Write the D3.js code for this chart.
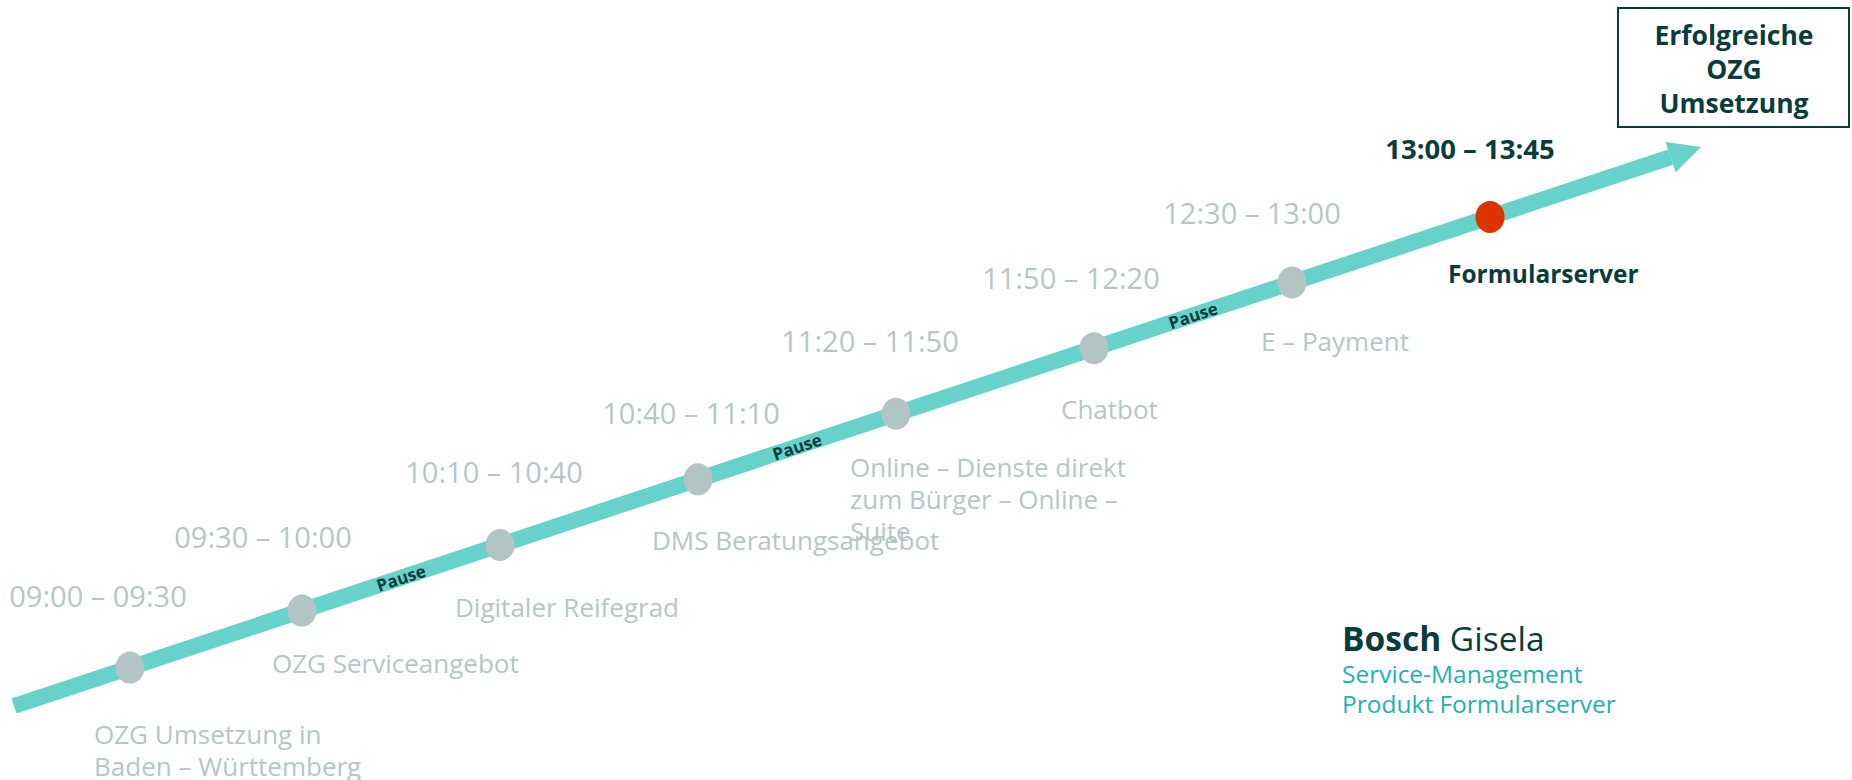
<!DOCTYPE html>
<html>
<head>
<meta charset="utf-8">
<script src="https://cdn.jsdelivr.net/npm/d3@7"></script>
<style>
  html, body { margin: 0; padding: 0; background: #ffffff; }
  svg { display: block; }
  text { font-family: 'Open Sans', 'Noto Sans', sans-serif; }
</style>
</head>
<body>
<svg id="chart" width="1852" height="780"></svg>
<script>
// ---------------- DATA ----------------
const times = [
  "09:00 – 09:30", "09:30 – 10:00", "10:10 – 10:40", "10:40 – 11:10",
  "11:20 – 11:50", "11:50 – 12:20", "12:30 – 13:00", "13:00 – 13:45"
];
const topics = [
  ["OZG Umsetzung in", "Baden – Württemberg"],
  ["OZG Serviceangebot"],
  ["Digitaler Reifegrad"],
  ["DMS Beratungsangebot"],
  ["Online – Dienste direkt", "zum Bürger – Online –", "Suite"],
  ["Chatbot"],
  ["E – Payment"],
  ["Formularserver"]
];
const pauseAfter = [1, 3, 5];        // a "Pause" between session i and i+1
const currentIndex = 7;              // highlighted session
const goalLines = ["Erfolgreiche", "OZG", "Umsetzung"];
const speakerLast = "Bosch";
const speakerFirst = "Gisela";
const roleLines = ["Service-Management", "Produkt Formularserver"];

// ---------------- LAYOUT (not data) ----------------
const timeDx = [-32, -39, -6, -7, -26, -23, -40, -20];
const timeDy = [-61, -63, -62, -55, -62, -59, -58.5, -58];
const topicDx = [-36, -30, -45, -46, -46, -33, -31, -42];
const topicDy = [76, 62, 72, 70.5, 63.5, 71, 68.5, 66];

const C = {
  line: "#66d2ca", dot: "#b3c4c5", gray: "#b5c6c6", dark: "#0b3c3c",
  red: "#dd3300", teal: "#1db3a8"
};

const svg = d3.select("#chart");
const n = times.length;
// session index -> horizontal position (first gap is shorter)
const x = d3.scaleLinear().domain([0, 1, n - 1]).range([130, 302, 1490]);
// timeline: horizontal position -> vertical position
const yOfX = d3.scaleLinear().domain([14, 1701]).range([706, 147]);
const P = px => [px, yOfX(px)];

const start = P(14), tip = P(1701);
const len = Math.hypot(tip[0] - start[0], tip[1] - start[1]);
const u = [(tip[0] - start[0]) / len, (tip[1] - start[1]) / len], nv = [-u[1], u[0]];
const headLen = 32, headHalf = 16;
const base = [tip[0] - headLen * u[0], tip[1] - headLen * u[1]];
const angle = Math.atan2(u[1], u[0]) * 180 / Math.PI;

// main line
svg.append("path")
  .attr("d", d3.line()([start, base]))
  .attr("stroke", C.line).attr("stroke-width", 16).attr("fill", "none");
// arrow head
svg.append("path")
  .attr("d", d3.line()([tip,
    [base[0] + headHalf * nv[0], base[1] + headHalf * nv[1]],
    [base[0] - headHalf * nv[0], base[1] - headHalf * nv[1]]]) + "Z")
  .attr("fill", C.line);

// pauses
svg.selectAll("text.pause").data(pauseAfter).join("text")
  .attr("class", "pause")
  .attr("transform", d => {
    const px = (x(d) + x(d + 1)) / 2;
    return `translate(${px},${yOfX(px)}) rotate(${angle})`;
  })
  .attr("text-anchor", "middle").attr("dominant-baseline", "central")
  .attr("font-size", 17).attr("font-weight", 700).attr("fill", C.dark)
  .text("Pause");

// session dots
svg.selectAll("ellipse.dot").data(times).join("ellipse")
  .attr("class", "dot")
  .attr("cx", (d, i) => x(i)).attr("cy", (d, i) => yOfX(x(i)))
  .attr("rx", 14.5).attr("ry", 16)
  .attr("fill", (d, i) => i === currentIndex ? C.red : C.dot);

// time labels
svg.selectAll("text.time").data(times).join("text")
  .attr("class", "time")
  .attr("x", (d, i) => x(i) + timeDx[i]).attr("y", (d, i) => yOfX(x(i)) + timeDy[i])
  .attr("text-anchor", "middle")
  .attr("font-size", (d, i) => i === currentIndex ? 27.5 : 29)
  .attr("font-weight", (d, i) => i === currentIndex ? 700 : 400)
  .attr("fill", (d, i) => i === currentIndex ? C.dark : C.gray)
  .text(d => d);

// topic labels
const tg = svg.selectAll("text.topic").data(topics).join("text")
  .attr("class", "topic")
  .attr("font-size", (d, i) => i === currentIndex ? 24.5 : 26)
  .attr("font-weight", (d, i) => i === currentIndex ? 700 : 400)
  .attr("fill", (d, i) => i === currentIndex ? C.dark : C.gray);
tg.each(function (lines, i) {
  d3.select(this).selectAll("tspan").data(lines).join("tspan")
    .attr("x", x(i) + topicDx[i])
    .attr("y", (l, k) => yOfX(x(i)) + topicDy[i] + k * 32)
    .text(l => l);
});

// goal box
svg.append("rect")
  .attr("x", 1618).attr("y", 8).attr("width", 231).attr("height", 119)
  .attr("fill", "#ffffff").attr("stroke", C.dark).attr("stroke-width", 2);
svg.append("text")
  .attr("text-anchor", "middle").attr("font-size", 26.5).attr("font-weight", 700)
  .attr("fill", C.dark)
  .selectAll("tspan").data(goalLines).join("tspan")
  .attr("x", 1734).attr("y", (d, k) => 45 + k * 34).text(d => d);

// speaker
const sp = svg.append("text").attr("x", 1342).attr("y", 651)
  .attr("font-size", 33.5).attr("fill", C.dark);
sp.append("tspan").attr("font-weight", 700).text(speakerLast + " ");
sp.append("tspan").attr("font-weight", 400).text(speakerFirst);
svg.append("text").attr("font-size", 24.5).attr("fill", C.teal)
  .selectAll("tspan").data(roleLines).join("tspan")
  .attr("x", 1342).attr("y", (d, k) => 683 + k * 30).text(d => d);
</script>
</body>
</html>
